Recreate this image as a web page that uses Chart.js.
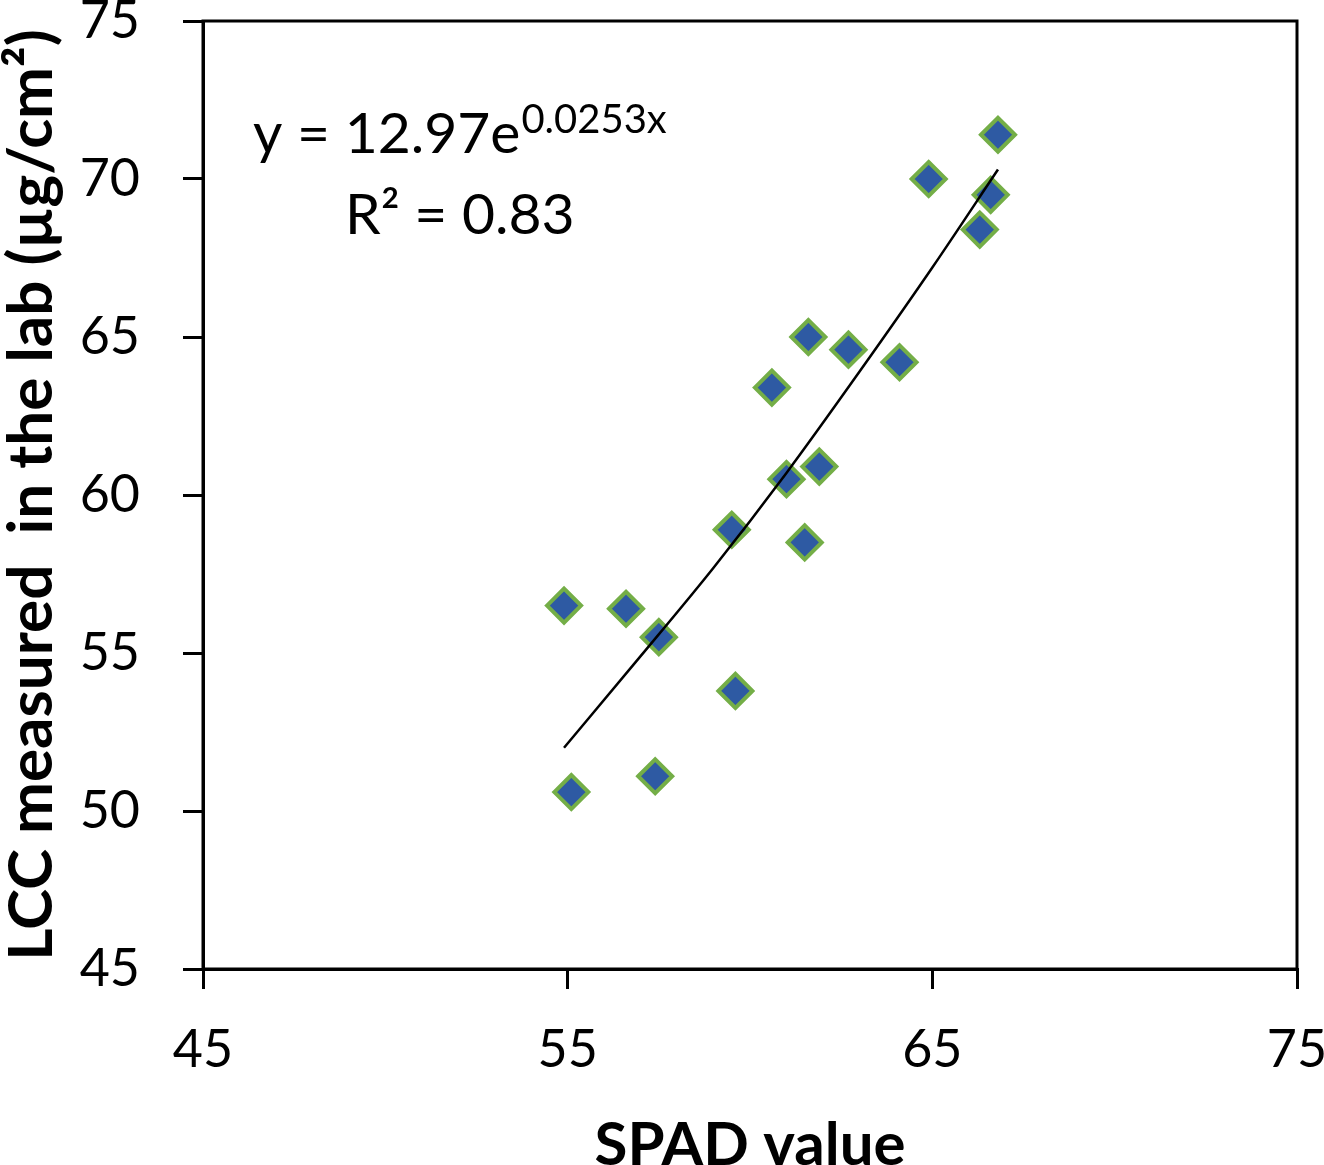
<!DOCTYPE html>
<html>
<head>
<meta charset="utf-8">
<title>SPAD vs LCC</title>
<script src="https://cdn.jsdelivr.net/npm/chart.js@4/dist/chart.umd.min.js"></script>
<style>
  html, body { margin: 0; padding: 0; background: #fff; }
  #wrap { width: 1324px; height: 1165px; position: relative; }
</style>
</head>
<body>
<div id="wrap"><canvas id="lccChart"></canvas></div>
<script>
// measured points
const spadValues = [54.9, 55.1, 56.6, 57.5, 57.4, 59.5, 59.6, 60.6, 61.0, 61.6, 61.5, 61.9, 62.7, 64.1, 64.9, 66.3, 66.6, 66.8];
const lccValues = [56.5, 50.6, 56.4, 55.5, 51.1, 58.9, 53.8, 63.4, 60.5, 65.0, 58.5, 60.9, 64.6, 64.2, 70.0, 68.4, 69.5, 71.4];

// exponential trend line
const trendSpad = [54.9, 57, 59, 61, 63, 65, 66.8];
const trendLcc = [52.0, 54.9, 57.7, 60.7, 63.9, 67.2, 70.3];

const xTicks = [45, 55, 65, 75];
const yTicks = [45, 50, 55, 60, 65, 70, 75];

const equationText = 'y = 12.97e';
const exponentText = '0.0253x';
const rSquaredText = 'R² = 0.83';

const fontFamily = 'Lato, "Open Sans", sans-serif';

function toPoints(xs, ys) {
  return xs.map((x, i) => ({ x: x, y: ys[i] }));
}

// closes the plot box (top and right edges)
const frameBox = {
  id: 'frameBox',
  beforeDatasetsDraw(chart) {
    const { ctx, chartArea } = chart;
    ctx.save();
    ctx.strokeStyle = '#000';
    ctx.lineWidth = 3;
    ctx.strokeRect(chartArea.left, chartArea.top, chartArea.right - chartArea.left, chartArea.bottom - chartArea.top);
    ctx.restore();
  }
};

// regression equation written inside the plot
const equationLabel = {
  id: 'equationLabel',
  afterDatasetsDraw(chart) {
    const { ctx } = chart;
    ctx.save();
    ctx.fillStyle = '#000';
    ctx.textBaseline = 'alphabetic';
    ctx.textAlign = 'left';
    ctx.font = '57px ' + fontFamily;
    ctx.fillText(equationText, 253, 153);
    const w = ctx.measureText(equationText).width;
    ctx.font = '40px ' + fontFamily;
    ctx.fillText(exponentText, 253 + w + 1, 133);
    ctx.font = '57px ' + fontFamily;
    ctx.fillText(rSquaredText, 345, 234);
    ctx.restore();
  }
};

function renderChart() {
  const canvas = document.getElementById('lccChart');
  new Chart(canvas, {
    data: {
      datasets: [
        {
          type: 'line',
          data: toPoints(trendSpad, trendLcc),
          borderColor: '#000',
          borderWidth: 2.5,
          pointRadius: 0,
          fill: false,
          cubicInterpolationMode: 'monotone',
          order: 0
        },
        {
          type: 'scatter',
          data: toPoints(spadValues, lccValues),
          pointStyle: 'rectRot',
          pointRadius: 17,
          pointHoverRadius: 17,
          backgroundColor: '#2E5AA3',
          borderColor: '#74AE47',
          borderWidth: 4,
          order: 1
        }
      ]
    },
    options: {
      responsive: true,
      maintainAspectRatio: false,
      animation: false,
      layout: { padding: { top: 20, right: 27, left: 0, bottom: 0 } },
      plugins: {
        legend: { display: false },
        tooltip: { enabled: false }
      },
      scales: {
        x: {
          type: 'linear',
          min: 45,
          max: 75,
          afterBuildTicks(scale) {
            scale.ticks = xTicks.map(v => ({ value: v }));
          },
          afterFit(scale) {
            scale.height = 196;
            scale.paddingLeft = 0;
            scale.paddingRight = 0;
          },
          border: { display: true, color: '#000', width: 3 },
          grid: { drawOnChartArea: false, drawTicks: true, tickLength: 20, color: '#000', lineWidth: 3 },
          ticks: {
            color: '#000',
            padding: 35,
            maxRotation: 0,
            font: { family: fontFamily, size: 52, lineHeight: 1 }
          },
          title: {
            display: true,
            text: 'SPAD value',
            color: '#000',
            padding: 0,
            font: { family: fontFamily, size: 60, weight: 'bold', lineHeight: 0.66 }
          }
        },
        y: {
          type: 'linear',
          min: 45,
          max: 75,
          afterBuildTicks(scale) {
            scale.ticks = yTicks.map(v => ({ value: v }));
          },
          afterFit(scale) {
            scale.width = 203;
            scale.paddingTop = 0;
            scale.paddingBottom = 0;
          },
          border: { display: true, color: '#000', width: 3 },
          grid: { drawOnChartArea: false, drawTicks: true, tickLength: 20, color: '#000', lineWidth: 3 },
          ticks: {
            color: '#000',
            padding: 43,
            font: { family: fontFamily, size: 52, lineHeight: 1 }
          },
          title: {
            display: true,
            text: 'LCC measured  in the lab (µg/cm²)',
            color: '#000',
            padding: { top: 1, bottom: 0 },
            font: { family: fontFamily, size: 62, weight: 'bold', lineHeight: 1 }
          }
        }
      }
    },
    plugins: [frameBox, equationLabel]
  });
}

window.addEventListener('load', renderChart);
</script>
</body>
</html>
